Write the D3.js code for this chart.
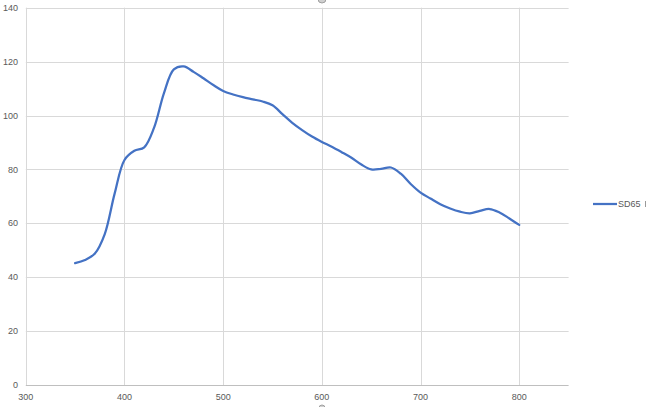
<!DOCTYPE html>
<html><head><meta charset="utf-8">
<script src="https://cdn.jsdelivr.net/npm/d3@7"></script>
<style>body{margin:0;background:#fff}svg{display:block}text{font-family:"Liberation Sans",Arial,sans-serif;fill:#595959}</style>
</head><body>
<svg id="c" width="646" height="407"></svg>
<script>
const xs = [350,360,370,380,390,400,410,420,430,440,450,460,470,480,490,500,510,520,530,540,550,560,570,580,590,600,610,620,630,640,650,660,670,680,690,700,710,720,730,740,750,760,770,780,790,800];
const sd65 = [45.2,46.4,48.8,56,71,83.5,86.9,88.2,95.5,108.3,117.1,118.2,116.2,113.8,111.3,109.1,107.8,106.8,106,105.2,103.8,100.5,97.3,94.6,92.2,90.2,88.4,86.4,84.3,81.8,80,80.2,80.7,78.4,74.6,71.4,69.2,67.1,65.5,64.3,63.7,64.6,65.3,64,61.8,59.4];
const xTicks = [300,400,500,600,700,800];
const yTicks = [0,20,40,60,80,100,120,140];
const seriesName = "SD65";

const svg = d3.select("#c");
const x = d3.scaleLinear().domain([300,850]).range([25.8,568.6]);
const y = d3.scaleLinear().domain([0,140]).range([385,7.7]);

const g = svg.append("g");
g.selectAll(".hg").data(yTicks.filter(d=>d>0)).join("line")
  .attr("x1",x(300)).attr("x2",x(850)).attr("y1",d=>Math.round(y(d))+0.5).attr("y2",d=>Math.round(y(d))+0.5)
  .attr("stroke","#d9d9d9").attr("stroke-width",1);
g.selectAll(".vg").data(xTicks).join("line")
  .attr("x1",d=>Math.round(x(d))+0.5).attr("x2",d=>Math.round(x(d))+0.5).attr("y1",y(140)).attr("y2",y(0))
  .attr("stroke","#d9d9d9").attr("stroke-width",1);
g.append("line").attr("x1",x(300)).attr("x2",x(850)).attr("y1",Math.round(y(0))+0.5).attr("y2",Math.round(y(0))+0.5)
  .attr("stroke","#bfbfbf").attr("stroke-width",1);

g.selectAll(".yl").data(yTicks).join("text")
  .attr("x",18).attr("y",d=>y(d)).attr("dy","0.35em").attr("text-anchor","end")
  .attr("font-size","9px").text(d=>d);
g.selectAll(".xl").data(xTicks).join("text")
  .attr("x",d=>x(d)).attr("y",397).attr("dy","0.35em").attr("text-anchor","middle")
  .attr("font-size","9px").text(d=>d);

const line = d3.line().x((d,i)=>x(xs[i])).y(d=>y(d)).curve(d3.curveCatmullRom.alpha(0.5));
g.append("path").datum(sd65).attr("d",line).attr("fill","none")
  .attr("stroke","#4472c4").attr("stroke-width",2.25).attr("stroke-linecap","round").attr("stroke-linejoin","round");

// legend
g.append("line").attr("x1",593).attr("x2",617).attr("y1",204).attr("y2",204)
  .attr("stroke","#4472c4").attr("stroke-width",2.25);
g.append("text").attr("x",618).attr("y",204).attr("dy","0.35em").attr("font-size","9px").text(seriesName);
g.append("line").attr("x1",645.5).attr("x2",645.5).attr("y1",201).attr("y2",207).attr("stroke","#9a9a9a").attr("stroke-width",1);

// selection handle artifacts
svg.append("circle").attr("cx",322).attr("cy",-1).attr("r",4).attr("fill","#d0d0d0").attr("stroke","#a0a0a0");
svg.append("circle").attr("cx",322).attr("cy",408).attr("r",3).attr("fill","#d0d0d0").attr("stroke","#a0a0a0");
</script>
</body></html>
